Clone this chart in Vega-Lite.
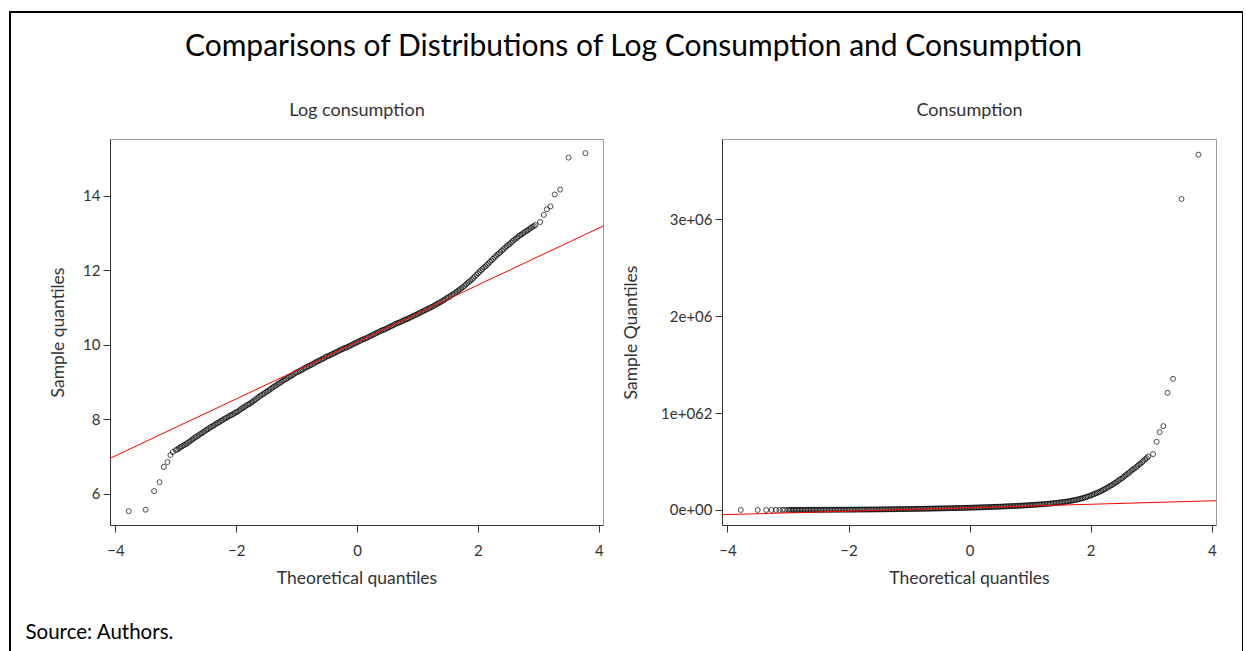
{
"$schema": "https://vega.github.io/schema/vega-lite/v6.json",
"width": 1233,
"height": 650,
"autosize": {"type": "pad"},
"padding": {"left": 10, "top": 12, "right": 0, "bottom": 0},
"background": "white",
"config": {
  "view": {"stroke": "black", "strokeWidth": 2},
  "font": "Lato",
  "axis": {"grid": false, "labelFont": "Lato", "titleFont": "Lato", "labelColor": "#333", "titleColor": "#333", "domainColor": "#333", "tickColor": "#333", "labelFontSize": 15, "titleFontSize": 17.5, "titleFontWeight": "normal", "tickSize": 7, "labelPadding": 3, "labelFlush": false, "labelOverlap": false},
  "title": {"font": "Lato", "fontSize": 30, "fontWeight": "normal", "color": "black"}
},
"title": {"text": "Comparisons of Distributions of Log Consumption and Consumption", "offset": -50, "dx": 7},
"datasets": {
"logline": [{"theoretical": -4.09, "sample": 6.95}, {"theoretical": 4.07, "sample": 13.19}],
"consline": [{"theoretical": -4.09, "sample": -49000}, {"theoretical": 4.07, "sample": 96000}],
"logc": [
{"theoretical":-3.78,"sample":5.53},{"theoretical":-3.5,"sample":5.57},{"theoretical":-3.36,"sample":6.07},{"theoretical":-3.27,"sample":6.31},{"theoretical":-3.2,"sample":6.72},{"theoretical":-3.14,"sample":6.85},{"theoretical":-3.09,"sample":7.04},{"theoretical":-3.05,"sample":7.12},
{"theoretical":-3.0,"sample":7.17},{"theoretical":-2.95,"sample":7.22},{"theoretical":-2.9,"sample":7.27},{"theoretical":-2.85,"sample":7.32},{"theoretical":-2.8,"sample":7.37},{"theoretical":-2.75,"sample":7.43},{"theoretical":-2.7,"sample":7.49},{"theoretical":-2.65,"sample":7.54},{"theoretical":-2.6,"sample":7.6},{"theoretical":-2.55,"sample":7.65},
{"theoretical":-2.5,"sample":7.71},{"theoretical":-2.45,"sample":7.76},{"theoretical":-2.4,"sample":7.81},{"theoretical":-2.35,"sample":7.86},{"theoretical":-2.3,"sample":7.91},{"theoretical":-2.25,"sample":7.96},{"theoretical":-2.2,"sample":8.01},{"theoretical":-2.15,"sample":8.05},{"theoretical":-2.1,"sample":8.1},{"theoretical":-2.05,"sample":8.14},
{"theoretical":-2.0,"sample":8.19},{"theoretical":-1.95,"sample":8.24},{"theoretical":-1.9,"sample":8.3},{"theoretical":-1.85,"sample":8.35},{"theoretical":-1.8,"sample":8.4},{"theoretical":-1.75,"sample":8.45},{"theoretical":-1.7,"sample":8.51},{"theoretical":-1.65,"sample":8.57},{"theoretical":-1.6,"sample":8.63},{"theoretical":-1.55,"sample":8.68},
{"theoretical":-1.5,"sample":8.74},{"theoretical":-1.45,"sample":8.79},{"theoretical":-1.4,"sample":8.85},{"theoretical":-1.35,"sample":8.9},{"theoretical":-1.3,"sample":8.96},{"theoretical":-1.25,"sample":9.01},{"theoretical":-1.2,"sample":9.06},{"theoretical":-1.15,"sample":9.11},{"theoretical":-1.1,"sample":9.16},{"theoretical":-1.05,"sample":9.21},
{"theoretical":-1.0,"sample":9.26},{"theoretical":-0.95,"sample":9.3},{"theoretical":-0.9,"sample":9.34},{"theoretical":-0.85,"sample":9.39},{"theoretical":-0.8,"sample":9.43},{"theoretical":-0.75,"sample":9.47},{"theoretical":-0.7,"sample":9.52},{"theoretical":-0.65,"sample":9.56},{"theoretical":-0.6,"sample":9.6},{"theoretical":-0.55,"sample":9.64},
{"theoretical":-0.5,"sample":9.69},{"theoretical":-0.45,"sample":9.72},{"theoretical":-0.4,"sample":9.76},{"theoretical":-0.35,"sample":9.8},{"theoretical":-0.3,"sample":9.84},{"theoretical":-0.25,"sample":9.88},{"theoretical":-0.2,"sample":9.92},{"theoretical":-0.15,"sample":9.95},{"theoretical":-0.1,"sample":9.99},{"theoretical":-0.05,"sample":10.03},
{"theoretical":0.0,"sample":10.07},{"theoretical":0.05,"sample":10.11},{"theoretical":0.1,"sample":10.15},{"theoretical":0.15,"sample":10.18},{"theoretical":0.2,"sample":10.22},{"theoretical":0.25,"sample":10.26},{"theoretical":0.3,"sample":10.3},{"theoretical":0.35,"sample":10.34},{"theoretical":0.4,"sample":10.38},{"theoretical":0.45,"sample":10.41},
{"theoretical":0.5,"sample":10.45},{"theoretical":0.55,"sample":10.49},{"theoretical":0.6,"sample":10.53},{"theoretical":0.65,"sample":10.57},{"theoretical":0.7,"sample":10.6},{"theoretical":0.75,"sample":10.64},{"theoretical":0.8,"sample":10.68},{"theoretical":0.85,"sample":10.71},{"theoretical":0.9,"sample":10.75},{"theoretical":0.95,"sample":10.79},
{"theoretical":1.0,"sample":10.83},{"theoretical":1.05,"sample":10.87},{"theoretical":1.1,"sample":10.91},{"theoretical":1.15,"sample":10.95},{"theoretical":1.2,"sample":10.99},{"theoretical":1.25,"sample":11.03},{"theoretical":1.3,"sample":11.08},{"theoretical":1.35,"sample":11.12},{"theoretical":1.4,"sample":11.17},{"theoretical":1.45,"sample":11.22},
{"theoretical":1.5,"sample":11.27},{"theoretical":1.55,"sample":11.32},{"theoretical":1.6,"sample":11.37},{"theoretical":1.65,"sample":11.43},{"theoretical":1.7,"sample":11.49},{"theoretical":1.75,"sample":11.55},{"theoretical":1.8,"sample":11.62},{"theoretical":1.85,"sample":11.69},{"theoretical":1.9,"sample":11.76},{"theoretical":1.95,"sample":11.84},
{"theoretical":2.0,"sample":11.92},{"theoretical":2.05,"sample":12.0},{"theoretical":2.1,"sample":12.08},{"theoretical":2.15,"sample":12.15},{"theoretical":2.2,"sample":12.23},{"theoretical":2.25,"sample":12.31},{"theoretical":2.3,"sample":12.39},{"theoretical":2.35,"sample":12.46},{"theoretical":2.4,"sample":12.54},{"theoretical":2.45,"sample":12.61},
{"theoretical":2.5,"sample":12.68},{"theoretical":2.55,"sample":12.75},{"theoretical":2.6,"sample":12.82},{"theoretical":2.65,"sample":12.88},{"theoretical":2.7,"sample":12.95},{"theoretical":2.75,"sample":13.0},{"theoretical":2.8,"sample":13.06},{"theoretical":2.85,"sample":13.11},{"theoretical":2.9,"sample":13.17},{"theoretical":2.95,"sample":13.22},
{"theoretical":3.03,"sample":13.3},{"theoretical":3.09,"sample":13.49},{"theoretical":3.14,"sample":13.64},{"theoretical":3.2,"sample":13.72},{"theoretical":3.27,"sample":14.04},{"theoretical":3.36,"sample":14.17},{"theoretical":3.5,"sample":15.03},{"theoretical":3.78,"sample":15.15},
{"theoretical":-2.975,"sample":7.19},{"theoretical":-2.925,"sample":7.25},{"theoretical":-2.875,"sample":7.3},{"theoretical":-2.825,"sample":7.34},{"theoretical":-2.775,"sample":7.4},{"theoretical":-2.725,"sample":7.46},{"theoretical":-2.675,"sample":7.52},{"theoretical":-2.625,"sample":7.57},{"theoretical":-2.575,"sample":7.62},{"theoretical":-2.525,"sample":7.68},
{"theoretical":-2.475,"sample":7.73},{"theoretical":-2.425,"sample":7.79},{"theoretical":-2.375,"sample":7.83},{"theoretical":-2.325,"sample":7.89},{"theoretical":-2.275,"sample":7.93},{"theoretical":-2.225,"sample":7.98},{"theoretical":-2.175,"sample":8.03},{"theoretical":-2.125,"sample":8.08},{"theoretical":-2.075,"sample":8.12},{"theoretical":-2.025,"sample":8.17},
{"theoretical":-1.975,"sample":8.21},{"theoretical":-1.925,"sample":8.27},{"theoretical":-1.875,"sample":8.32},{"theoretical":-1.825,"sample":8.38},{"theoretical":-1.775,"sample":8.42},{"theoretical":-1.725,"sample":8.48},{"theoretical":-1.675,"sample":8.54},{"theoretical":-1.625,"sample":8.6},{"theoretical":-1.575,"sample":8.66},{"theoretical":-1.525,"sample":8.71},
{"theoretical":-1.475,"sample":8.76},{"theoretical":-1.425,"sample":8.82},{"theoretical":-1.375,"sample":8.88},{"theoretical":-1.325,"sample":8.93},{"theoretical":-1.275,"sample":8.98},{"theoretical":-1.225,"sample":9.04},{"theoretical":-1.175,"sample":9.08},{"theoretical":-1.125,"sample":9.14},{"theoretical":-1.075,"sample":9.18},{"theoretical":-1.025,"sample":9.24},
{"theoretical":-0.975,"sample":9.28},{"theoretical":-0.925,"sample":9.32},{"theoretical":-0.875,"sample":9.37},{"theoretical":-0.825,"sample":9.41},{"theoretical":-0.775,"sample":9.45},{"theoretical":-0.725,"sample":9.49},{"theoretical":-0.675,"sample":9.54},{"theoretical":-0.625,"sample":9.58},{"theoretical":-0.575,"sample":9.62},{"theoretical":-0.525,"sample":9.67},
{"theoretical":-0.475,"sample":9.7},{"theoretical":-0.425,"sample":9.74},{"theoretical":-0.375,"sample":9.78},{"theoretical":-0.325,"sample":9.82},{"theoretical":-0.275,"sample":9.86},{"theoretical":-0.225,"sample":9.9},{"theoretical":-0.175,"sample":9.93},{"theoretical":-0.125,"sample":9.97},{"theoretical":-0.075,"sample":10.01},{"theoretical":-0.025,"sample":10.05},
{"theoretical":0.025,"sample":10.09},{"theoretical":0.075,"sample":10.13},{"theoretical":0.125,"sample":10.16},{"theoretical":0.175,"sample":10.2},{"theoretical":0.225,"sample":10.24},{"theoretical":0.275,"sample":10.28},{"theoretical":0.325,"sample":10.32},{"theoretical":0.375,"sample":10.36},{"theoretical":0.425,"sample":10.4},{"theoretical":0.475,"sample":10.43},
{"theoretical":0.525,"sample":10.47},{"theoretical":0.575,"sample":10.51},{"theoretical":0.625,"sample":10.55},{"theoretical":0.675,"sample":10.59},{"theoretical":0.725,"sample":10.62},{"theoretical":0.775,"sample":10.66},{"theoretical":0.825,"sample":10.69},{"theoretical":0.875,"sample":10.73},{"theoretical":0.925,"sample":10.77},{"theoretical":0.975,"sample":10.81},
{"theoretical":1.025,"sample":10.85},{"theoretical":1.075,"sample":10.89},{"theoretical":1.125,"sample":10.93},{"theoretical":1.175,"sample":10.97},{"theoretical":1.225,"sample":11.01},{"theoretical":1.275,"sample":11.05},{"theoretical":1.325,"sample":11.1},{"theoretical":1.375,"sample":11.14},{"theoretical":1.425,"sample":11.19},{"theoretical":1.475,"sample":11.25},
{"theoretical":1.525,"sample":11.29},{"theoretical":1.575,"sample":11.35},{"theoretical":1.625,"sample":11.4},{"theoretical":1.675,"sample":11.46},{"theoretical":1.725,"sample":11.52},{"theoretical":1.775,"sample":11.58},{"theoretical":1.825,"sample":11.66},{"theoretical":1.875,"sample":11.72},{"theoretical":1.925,"sample":11.8},{"theoretical":1.975,"sample":11.88},
{"theoretical":2.025,"sample":11.96},{"theoretical":2.075,"sample":12.04},{"theoretical":2.125,"sample":12.11},{"theoretical":2.175,"sample":12.19},{"theoretical":2.225,"sample":12.27},{"theoretical":2.275,"sample":12.35},{"theoretical":2.325,"sample":12.43},{"theoretical":2.375,"sample":12.5},{"theoretical":2.425,"sample":12.57},{"theoretical":2.475,"sample":12.65},
{"theoretical":2.525,"sample":12.71},{"theoretical":2.575,"sample":12.79},{"theoretical":2.625,"sample":12.85},{"theoretical":2.675,"sample":12.92},{"theoretical":2.725,"sample":12.97},{"theoretical":2.775,"sample":13.03},{"theoretical":2.825,"sample":13.08},{"theoretical":2.875,"sample":13.14},{"theoretical":2.925,"sample":13.19}
],
"cons": [
{"theoretical":-3.78,"sample":252},{"theoretical":-3.5,"sample":262},{"theoretical":-3.36,"sample":433},{"theoretical":-3.27,"sample":550},{"theoretical":-3.2,"sample":829},{"theoretical":-3.14,"sample":944},{"theoretical":-3.09,"sample":1141},{"theoretical":-3.05,"sample":1236},
{"theoretical":-3.0,"sample":1300},{"theoretical":-2.95,"sample":1367},{"theoretical":-2.9,"sample":1437},{"theoretical":-2.85,"sample":1510},{"theoretical":-2.8,"sample":1588},{"theoretical":-2.75,"sample":1686},{"theoretical":-2.7,"sample":1790},{"theoretical":-2.65,"sample":1882},{"theoretical":-2.6,"sample":1998},{"theoretical":-2.55,"sample":2101},
{"theoretical":-2.5,"sample":2231},{"theoretical":-2.45,"sample":2345},{"theoretical":-2.4,"sample":2466},{"theoretical":-2.35,"sample":2592},{"theoretical":-2.3,"sample":2725},{"theoretical":-2.25,"sample":2864},{"theoretical":-2.2,"sample":3011},{"theoretical":-2.15,"sample":3134},{"theoretical":-2.1,"sample":3294},{"theoretical":-2.05,"sample":3429},
{"theoretical":-2.0,"sample":3605},{"theoretical":-1.95,"sample":3790},{"theoretical":-1.9,"sample":4024},{"theoretical":-1.85,"sample":4230},{"theoretical":-1.8,"sample":4447},{"theoretical":-1.75,"sample":4675},{"theoretical":-1.7,"sample":4964},{"theoretical":-1.65,"sample":5271},{"theoretical":-1.6,"sample":5597},{"theoretical":-1.55,"sample":5884},
{"theoretical":-1.5,"sample":6248},{"theoretical":-1.45,"sample":6568},{"theoretical":-1.4,"sample":6974},{"theoretical":-1.35,"sample":7332},{"theoretical":-1.3,"sample":7785},{"theoretical":-1.25,"sample":8184},{"theoretical":-1.2,"sample":8604},{"theoretical":-1.15,"sample":9045},{"theoretical":-1.1,"sample":9509},{"theoretical":-1.05,"sample":9997},
{"theoretical":-1.0,"sample":10509},{"theoretical":-0.95,"sample":10938},{"theoretical":-0.9,"sample":11384},{"theoretical":-0.85,"sample":11968},{"theoretical":-0.8,"sample":12456},{"theoretical":-0.75,"sample":12964},{"theoretical":-0.7,"sample":13629},{"theoretical":-0.65,"sample":14185},{"theoretical":-0.6,"sample":14764},{"theoretical":-0.55,"sample":15367},
{"theoretical":-0.5,"sample":16154},{"theoretical":-0.45,"sample":16647},{"theoretical":-0.4,"sample":17326},{"theoretical":-0.35,"sample":18034},{"theoretical":-0.3,"sample":18769},{"theoretical":-0.25,"sample":19536},{"theoretical":-0.2,"sample":20333},{"theoretical":-0.15,"sample":20952},{"theoretical":-0.1,"sample":21807},{"theoretical":-0.05,"sample":22697},
{"theoretical":0.0,"sample":23624},{"theoretical":0.05,"sample":24588},{"theoretical":0.1,"sample":25591},{"theoretical":0.15,"sample":26370},{"theoretical":0.2,"sample":27446},{"theoretical":0.25,"sample":28566},{"theoretical":0.3,"sample":29733},{"theoretical":0.35,"sample":30946},{"theoretical":0.4,"sample":32209},{"theoretical":0.45,"sample":33190},
{"theoretical":0.5,"sample":34544},{"theoretical":0.55,"sample":35954},{"theoretical":0.6,"sample":37421},{"theoretical":0.65,"sample":38948},{"theoretical":0.7,"sample":40135},{"theoretical":0.75,"sample":41773},{"theoretical":0.8,"sample":43477},{"theoretical":0.85,"sample":44802},{"theoretical":0.9,"sample":46630},{"theoretical":0.95,"sample":48533},
{"theoretical":1.0,"sample":50514},{"theoretical":1.05,"sample":52575},{"theoretical":1.1,"sample":54720},{"theoretical":1.15,"sample":56954},{"theoretical":1.2,"sample":59278},{"theoretical":1.25,"sample":61697},{"theoretical":1.3,"sample":64860},{"theoretical":1.35,"sample":67507},{"theoretical":1.4,"sample":70968},{"theoretical":1.45,"sample":74607},
{"theoretical":1.5,"sample":78433},{"theoretical":1.55,"sample":82454},{"theoretical":1.6,"sample":86682},{"theoretical":1.65,"sample":92042},{"theoretical":1.7,"sample":97734},{"theoretical":1.75,"sample":103777},{"theoretical":1.8,"sample":111301},{"theoretical":1.85,"sample":119371},{"theoretical":1.9,"sample":128026},{"theoretical":1.95,"sample":138690},
{"theoretical":2.0,"sample":150242},{"theoretical":2.05,"sample":162755},{"theoretical":2.1,"sample":176312},{"theoretical":2.15,"sample":189094},{"theoretical":2.2,"sample":204842},{"theoretical":2.25,"sample":221904},{"theoretical":2.3,"sample":240387},{"theoretical":2.35,"sample":257815},{"theoretical":2.4,"sample":279290},{"theoretical":2.45,"sample":299539},
{"theoretical":2.5,"sample":321258},{"theoretical":2.55,"sample":344551},{"theoretical":2.6,"sample":369532},{"theoretical":2.65,"sample":392385},{"theoretical":2.7,"sample":420836},{"theoretical":2.75,"sample":442413},{"theoretical":2.8,"sample":469770},{"theoretical":2.85,"sample":493854},{"theoretical":2.9,"sample":524392},{"theoretical":2.95,"sample":551283},
{"theoretical":3.03,"sample":577000},{"theoretical":3.09,"sample":704000},{"theoretical":3.14,"sample":804000},{"theoretical":3.2,"sample":866000},{"theoretical":3.27,"sample":1210000},{"theoretical":3.36,"sample":1354000},{"theoretical":3.5,"sample":3210000},{"theoretical":3.78,"sample":3667000},
{"theoretical":-2.975,"sample":1326},{"theoretical":-2.925,"sample":1408},{"theoretical":-2.875,"sample":1480},{"theoretical":-2.825,"sample":1541},{"theoretical":-2.775,"sample":1636},{"theoretical":-2.725,"sample":1737},{"theoretical":-2.675,"sample":1845},{"theoretical":-2.625,"sample":1939},{"theoretical":-2.575,"sample":2039},{"theoretical":-2.525,"sample":2165},
{"theoretical":-2.475,"sample":2276},{"theoretical":-2.425,"sample":2417},{"theoretical":-2.375,"sample":2515},{"theoretical":-2.325,"sample":2671},{"theoretical":-2.275,"sample":2780},{"theoretical":-2.225,"sample":2922},{"theoretical":-2.175,"sample":3072},{"theoretical":-2.125,"sample":3229},{"theoretical":-2.075,"sample":3361},{"theoretical":-2.025,"sample":3533},
{"theoretical":-1.975,"sample":3677},{"theoretical":-1.925,"sample":3905},{"theoretical":-1.875,"sample":4105},{"theoretical":-1.825,"sample":4359},{"theoretical":-1.775,"sample":4537},{"theoretical":-1.725,"sample":4817},{"theoretical":-1.675,"sample":5115},{"theoretical":-1.625,"sample":5432},{"theoretical":-1.575,"sample":5768},{"theoretical":-1.525,"sample":6064},
{"theoretical":-1.475,"sample":6374},{"theoretical":-1.425,"sample":6768},{"theoretical":-1.375,"sample":7187},{"theoretical":-1.325,"sample":7555},{"theoretical":-1.275,"sample":7943},{"theoretical":-1.225,"sample":8433},{"theoretical":-1.175,"sample":8778},{"theoretical":-1.125,"sample":9320},{"theoretical":-1.075,"sample":9701},{"theoretical":-1.025,"sample":10301},
{"theoretical":-0.975,"sample":10721},{"theoretical":-0.925,"sample":11159},{"theoretical":-0.875,"sample":11731},{"theoretical":-0.825,"sample":12210},{"theoretical":-0.775,"sample":12708},{"theoretical":-0.725,"sample":13226},{"theoretical":-0.675,"sample":13904},{"theoretical":-0.625,"sample":14472},{"theoretical":-0.575,"sample":15063},{"theoretical":-0.525,"sample":15835},
{"theoretical":-0.475,"sample":16318},{"theoretical":-0.425,"sample":16984},{"theoretical":-0.375,"sample":17677},{"theoretical":-0.325,"sample":18398},{"theoretical":-0.275,"sample":19149},{"theoretical":-0.225,"sample":19930},{"theoretical":-0.175,"sample":20537},{"theoretical":-0.125,"sample":21375},{"theoretical":-0.075,"sample":22248},{"theoretical":-0.025,"sample":23156},
{"theoretical":0.025,"sample":24100},{"theoretical":0.075,"sample":25084},{"theoretical":0.125,"sample":25848},{"theoretical":0.175,"sample":26903},{"theoretical":0.225,"sample":28001},{"theoretical":0.275,"sample":29143},{"theoretical":0.325,"sample":30333},{"theoretical":0.375,"sample":31571},{"theoretical":0.425,"sample":32860},{"theoretical":0.475,"sample":33860},
{"theoretical":0.525,"sample":35242},{"theoretical":0.575,"sample":36680},{"theoretical":0.625,"sample":38177},{"theoretical":0.675,"sample":39735},{"theoretical":0.725,"sample":40945},{"theoretical":0.775,"sample":42616},{"theoretical":0.825,"sample":43914},{"theoretical":0.875,"sample":45706},{"theoretical":0.925,"sample":47571},{"theoretical":0.975,"sample":49513},
{"theoretical":1.025,"sample":51534},{"theoretical":1.075,"sample":53637},{"theoretical":1.125,"sample":55826},{"theoretical":1.175,"sample":58104},{"theoretical":1.225,"sample":60476},{"theoretical":1.275,"sample":62944},{"theoretical":1.325,"sample":66171},{"theoretical":1.375,"sample":68871},{"theoretical":1.425,"sample":72402},{"theoretical":1.475,"sample":76879},
{"theoretical":1.525,"sample":80017},{"theoretical":1.575,"sample":84965},{"theoretical":1.625,"sample":89321},{"theoretical":1.675,"sample":94845},{"theoretical":1.725,"sample":100710},{"theoretical":1.775,"sample":106939},{"theoretical":1.825,"sample":115844},{"theoretical":1.875,"sample":123007},{"theoretical":1.925,"sample":133252},{"theoretical":1.975,"sample":144351},
{"theoretical":2.025,"sample":156373},{"theoretical":2.075,"sample":169396},{"theoretical":2.125,"sample":181680},{"theoretical":2.175,"sample":196811},{"theoretical":2.225,"sample":213203},{"theoretical":2.275,"sample":230960},{"theoretical":2.325,"sample":250196},{"theoretical":2.375,"sample":268337},{"theoretical":2.425,"sample":287800},{"theoretical":2.475,"sample":311764},
{"theoretical":2.525,"sample":331044},{"theoretical":2.575,"sample":358579},{"theoretical":2.625,"sample":380744},{"theoretical":2.675,"sample":408366},{"theoretical":2.725,"sample":429295},{"theoretical":2.775,"sample":455845},{"theoretical":2.825,"sample":479219},{"theoretical":2.875,"sample":508893},{"theoretical":2.925,"sample":534979}
]
},
"layer": [
  {
    "data": {"name": "logc"},
    "mark": {"type": "point", "filled": false, "size": 25, "strokeWidth": 1, "color": "#000"},
    "encoding": {
      "x": {"field": "theoretical", "type": "quantitative", "scale": {"domain": [-4.09, 4.07], "range": [100, 593], "nice": false, "zero": false},
            "axis": {"orient": "bottom", "offset": -137, "values": [-4, -2, 0, 2, 4], "labelPadding": 11, "title": "Theoretical quantiles", "titlePadding": 11}},
      "y": {"field": "sample", "type": "quantitative", "scale": {"domain": [5.16, 15.53], "range": [513, 127], "nice": false, "zero": false},
            "axis": {"orient": "left", "offset": -100, "values": [6, 8, 10, 12, 14], "title": "Sample quantiles", "titlePadding": 15}}
    }
  },
  {
    "data": {"name": "logline"},
    "mark": {"type": "line", "color": "#ff0000", "strokeWidth": 1},
    "encoding": {
      "x": {"field": "theoretical", "type": "quantitative", "scale": {"domain": [-4.09, 4.07], "range": [100, 593], "nice": false, "zero": false},
            "axis": {"orient": "top", "offset": -127, "ticks": false, "labels": false, "domainColor": "#9a9a9a", "title": "Log consumption", "titleFontSize": 18, "titlePadding": 20}},
      "y": {"field": "sample", "type": "quantitative", "scale": {"domain": [5.16, 15.53], "range": [513, 127], "nice": false, "zero": false},
            "axis": {"orient": "right", "offset": -640, "ticks": false, "labels": false, "domainColor": "#9a9a9a", "title": "Source: Authors.", "titleAngle": 0, "titleAlign": "left", "titleBaseline": "alphabetic", "titleX": -578, "titleY": 626, "titleFontSize": 20.5, "titleColor": "black"}}
    }
  },
  {
    "data": {"name": "cons"},
    "mark": {"type": "point", "filled": false, "size": 25, "strokeWidth": 1, "color": "#000"},
    "encoding": {
      "x": {"field": "theoretical", "type": "quantitative", "scale": {"domain": [-4.09, 4.07], "range": [712, 1206], "nice": false, "zero": false},
            "axis": {"orient": "bottom", "offset": -137, "values": [-4, -2, 0, 2, 4], "labelPadding": 11, "title": "Theoretical quantiles", "titlePadding": 11}},
      "y": {"field": "sample", "type": "quantitative", "scale": {"domain": [-154800, 3828700], "range": [513, 127], "nice": false, "zero": false},
            "axis": {"orient": "left", "offset": -712, "values": [0, 1000000, 2000000, 3000000], "labelExpr": "datum.value == 0 ? '0e+00' : (datum.value == 1000000 ? '1e+062' : format(datum.value / 1000000, 'd') + 'e+06')", "title": "Sample Quantiles", "titlePadding": 20}}
    }
  },
  {
    "data": {"name": "consline"},
    "mark": {"type": "line", "color": "#ff0000", "strokeWidth": 1},
    "encoding": {
      "x": {"field": "theoretical", "type": "quantitative", "scale": {"domain": [-4.09, 4.07], "range": [712, 1206], "nice": false, "zero": false},
            "axis": {"orient": "top", "offset": -127, "ticks": false, "labels": false, "domainColor": "#9a9a9a", "title": "Consumption", "titleFontSize": 18, "titlePadding": 20}},
      "y": {"field": "sample", "type": "quantitative", "scale": {"domain": [-154800, 3828700], "range": [513, 127], "nice": false, "zero": false},
            "axis": {"orient": "right", "offset": -27, "ticks": false, "labels": false, "domainColor": "#9a9a9a", "title": null}}
    }
  }
],
"resolve": {"scale": {"x": "independent", "y": "independent"}, "axis": {"x": "independent", "y": "independent"}}
}
